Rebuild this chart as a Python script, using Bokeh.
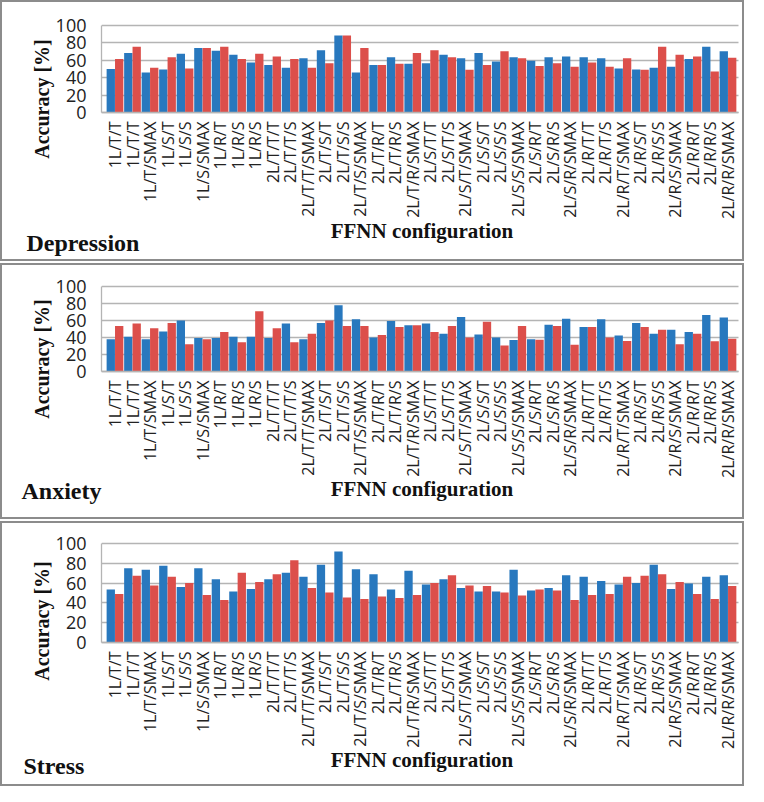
import numpy as np
from bokeh.plotting import figure
from bokeh.models import ColumnDataSource, FixedTicker, Label, Column, BoxAnnotation
from bokeh.transform import dodge
from bokeh.embed import file_html
from bokeh.resources import INLINE

categories = ["1L/T/T", "1L/T/T", "1L/T/SMAX", "1L/S/T", "1L/S/S", "1L/S/SMAX",
              "1L/R/T", "1L/R/S", "1L/R/S", "2L/T/T/T", "2L/T/T/S", "2L/T/T/SMAX",
              "2L/T/S/T", "2L/T/S/S", "2L/T/S/SMAX", "2L/T/R/T", "2L/T/R/S", "2L/T/R/SMAX",
              "2L/S/T/T", "2L/S/T/S", "2L/S/T/SMAX", "2L/S/S/T", "2L/S/S/S", "2L/S/S/SMAX",
              "2L/S/R/T", "2L/S/R/S", "2L/S/R/SMAX", "2L/R/T/T", "2L/R/T/S", "2L/R/T/SMAX",
              "2L/R/S/T", "2L/R/S/S", "2L/R/S/SMAX", "2L/R/R/T", "2L/R/R/S", "2L/R/R/SMAX"]

depression_blue = [50, 68.5, 46, 49.5, 67.5, 74, 71, 66.5, 57.5, 54.5, 51.5, 62.5, 71.5, 88.5, 46, 54.5, 63.5, 56,
                   56.5, 66.5, 62.5, 68.5, 58.5, 63.5, 59.5, 63.5, 64.5, 63.5, 62.5, 50.5, 49.5, 51.5, 52.5, 61.5, 75.5, 70.5]
depression_red = [61.5, 75.5, 51.5, 63.5, 50.5, 74, 75.5, 61.5, 67.5, 64.5, 61.5, 51.5, 56.5, 88.5, 74, 54.5, 56, 68.5,
                  71.5, 63.5, 49, 54.5, 70.5, 62.5, 53.5, 56.5, 52.5, 57.5, 52.5, 62.5, 49, 75.5, 66.5, 64.5, 47, 63]

anxiety_blue = [38, 41, 38, 47, 60, 39.5, 39.5, 41, 41, 39.5, 56.5, 38, 57, 78, 61.5, 40, 59.5, 54.5,
                56.5, 44.5, 64, 43.5, 40, 37, 38, 55, 62, 52.5, 61.5, 42.5, 57, 44.5, 49, 46.5, 66.5, 63.5]
anxiety_red = [53.5, 56.5, 51, 57, 32, 38, 46.5, 34.5, 71, 51, 34.5, 44.5, 60, 53.5, 53.5, 43, 52.5, 54.5,
               46.5, 53.5, 40, 58.5, 30.5, 53.5, 37.5, 53.5, 31.5, 52.5, 40, 36, 52.5, 49, 32, 44.5, 35.5, 38.5]

stress_blue = [53.5, 75, 73.5, 77.5, 56, 75, 64, 51.5, 54, 64, 70.5, 66.5, 78.5, 92, 74, 69, 53.5, 72.5,
               58.5, 64, 55, 51.5, 51.5, 73.5, 52.5, 55, 68, 66.5, 62, 58.5, 60, 78.5, 54, 59.5, 66.5, 68]
stress_red = [49, 67.5, 57.5, 66.5, 60, 48, 43, 70.5, 61, 69, 83, 55, 50.5, 45.5, 44, 46.5, 45, 48,
              60, 68, 57.5, 57, 50.5, 47.5, 53.5, 52.5, 43, 48, 49, 66.5, 67.5, 69, 61, 49, 44, 57]

y_ticks = [0, 20, 40, 60, 80, 100]

BLUE = "#2878be"
RED = "#dc4f4b"
GRID = "#b4b4b4"
TXT = "#222222"
DARK = "#111111"

W = 744          # canvas width
AX = 99          # canvas x of the value axis
RX = 736         # canvas x where the category area ends
X0, X1 = -0.77, 35.6


def make_panel(name, blue, red, H, top, frame_h, name_xy, xlab_y, ylab_y):
    ux = (RX - AX) / (X1 - X0)
    x_lo = X0 - AX / ux
    x_hi = X1 + (W - RX) / ux
    uy = frame_h / 100.0
    y_hi = 100 + top / uy
    y_lo = -(H - top - frame_h) / uy

    idx = list(range(len(categories)))
    src = ColumnDataSource(dict(i=idx, blue=blue, red=red))
    p = figure(width=W, height=H, output_backend="svg", toolbar_location=None,
               x_range=(x_lo, x_hi), y_range=(y_lo, y_hi),
               min_border_left=0, min_border_right=0, min_border_top=0, min_border_bottom=0)
    p.outline_line_color = None
    p.xgrid.visible = False
    p.ygrid.ticker = FixedTicker(ticks=y_ticks)
    p.ygrid.grid_line_color = GRID
    p.ygrid.grid_line_width = 1.3
    g = p.ygrid[0]
    if "cross_bounds" in g.properties():
        g.cross_bounds = (X0, X1)
    p.add_layout(BoxAnnotation(right=X0, fill_color="white", fill_alpha=1.0,
                               line_color=None, level="underlay"))

    p.vbar(x=dodge("i", -0.24), top="blue", width=0.475, source=src,
           fill_color=BLUE, line_color=None)
    p.vbar(x=dodge("i", 0.24), top="red", width=0.475, source=src,
           fill_color=RED, line_color=None)

    p.yaxis.fixed_location = X0
    p.yaxis.bounds = (0, 100)
    p.yaxis.ticker = FixedTicker(ticks=y_ticks)
    p.yaxis.major_label_text_font = "Open Sans"
    p.yaxis.major_label_text_font_size = "18px"
    p.yaxis.major_label_text_color = TXT
    p.yaxis.major_label_standoff = 15
    p.yaxis.major_tick_out = 0
    p.yaxis.major_tick_in = 0
    p.yaxis.minor_tick_out = 0
    p.yaxis.minor_tick_in = 0
    p.yaxis.axis_line_color = GRID
    p.yaxis.axis_line_width = 1.3

    p.xaxis.fixed_location = 0
    p.xaxis.bounds = (X0, X1)
    p.xaxis.ticker = FixedTicker(ticks=idx)
    p.xaxis.major_label_overrides = {i: c for i, c in zip(idx, categories)}
    p.xaxis.major_label_orientation = np.pi / 2
    p.xaxis.major_label_text_font = "Open Sans"
    p.xaxis.major_label_text_font_size = "16px"
    p.xaxis.major_label_text_color = TXT
    p.xaxis.major_label_standoff = 9
    p.xaxis.major_tick_out = 0
    p.xaxis.major_tick_in = 0
    p.xaxis.minor_tick_out = 0
    p.xaxis.minor_tick_in = 0
    p.xaxis.axis_line_color = GRID
    p.xaxis.axis_line_width = 1.3

    common = dict(x_units="canvas", y_units="canvas", text_font="Liberation Serif",
                  text_font_style="bold", text_color=DARK)
    p.add_layout(Label(x=37, y=ylab_y, text="Accuracy  [%]", angle=np.pi / 2,
                       text_align="center", text_baseline="middle",
                       text_font_size="20px", **common))
    p.add_layout(Label(x=(AX + RX) / 2, y=xlab_y, text="FFNN configuration",
                       text_align="center", text_baseline="alphabetic",
                       text_font_size="21px", **common))
    p.add_layout(Label(x=name_xy[0], y=name_xy[1], text=name,
                       text_align="left", text_baseline="alphabetic",
                       text_font_size="24px", **common))
    p.styles = {"border": "2px solid #8c8c8c"}
    return p


p1 = make_panel("Depression", depression_blue, depression_red, 261, 23, 87, (22, 238), 226, 92)
p2 = make_panel("Anxiety", anxiety_blue, anxiety_red, 256, 21, 85, (17, 223), 221, 89)
p3 = make_panel("Stress", stress_blue, stress_red, 265, 20, 99, (19, 240), 234, 93)

page = Column(children=[p1, p2, p3], spacing=2)
open("out.html", "w").write(file_html(page, INLINE))
